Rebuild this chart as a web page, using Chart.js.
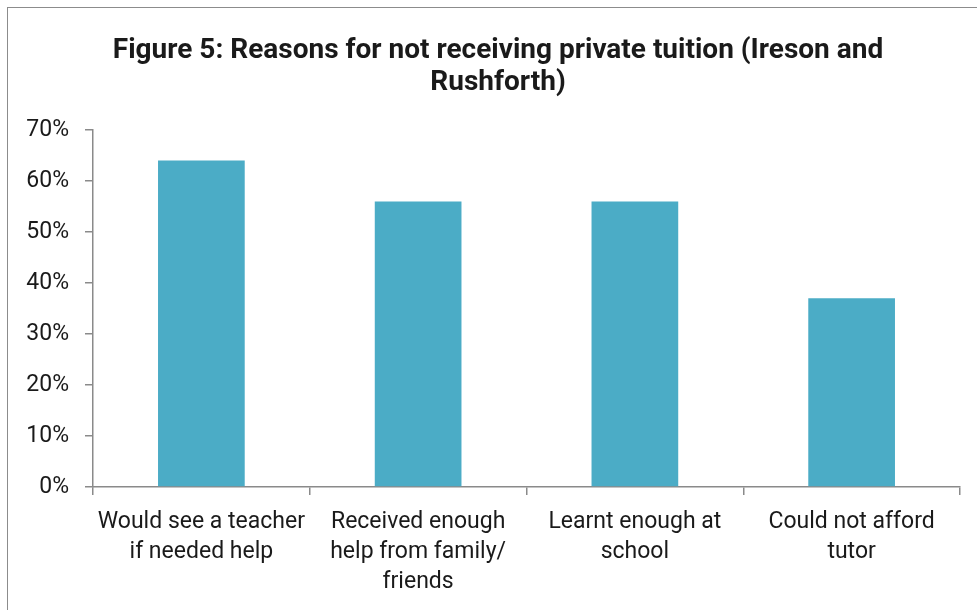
<!DOCTYPE html>
<html>
<head>
<meta charset="utf-8">
<script src="https://cdn.jsdelivr.net/npm/chart.js@4/dist/chart.umd.min.js"></script>
<style>
  html, body { margin: 0; padding: 0; background: #fff; }
  #wrap { position: relative; width: 977px; height: 610px; overflow: hidden; }
  #frame { position: absolute; left: 7px; top: 7px; width: 2000px; height: 2000px; border-left: 1px solid #8c8c8c; border-top: 1px solid #8c8c8c; }
  canvas { position: absolute; left: 0; top: 0; }
</style>
</head>
<body>
<div id="wrap">
  <div id="frame"></div>
  <canvas id="c" width="977" height="610"></canvas>
</div>
<script>
const titleLines = ["Figure 5: Reasons for not receiving private tuition (Ireson and", "Rushforth)"];
const categories = [
  ["Would see a teacher", "if needed help"],
  ["Received enough", "help from family/", "friends"],
  ["Learnt enough at", "school"],
  ["Could not afford", "tutor"]
];
const values = [64, 56, 56, 37];
const yTicks = [0, 10, 20, 30, 40, 50, 60, 70];

const axisColor = "#8a8a8a";
const textColor = "#1a1a1a";

// Title drawn centred on the original (cropped) chart frame
const titleLayout = { centerX: 498, firstBaseline: 58, lineGap: 32, font: "bold 28px Roboto" };
const titlePlugin = {
  id: "frameTitle",
  afterDraw(chart) {
    const ctx = chart.ctx;
    ctx.save();
    ctx.font = titleLayout.font;
    ctx.fillStyle = textColor;
    ctx.textAlign = "center";
    ctx.textBaseline = "alphabetic";
    titleLines.forEach((t, i) => ctx.fillText(t, titleLayout.centerX, titleLayout.firstBaseline + i * titleLayout.lineGap));
    ctx.restore();
  }
};

new Chart(document.getElementById("c"), {
  type: "bar",
  data: {
    labels: categories,
    datasets: [{
      data: values,
      backgroundColor: "#4bacc6",
      borderWidth: 0,
      categoryPercentage: 1.0,
      barPercentage: 0.4
    }]
  },
  plugins: [titlePlugin],
  options: {
    responsive: false,
    animation: false,
    layout: { padding: { left: 0, right: 17, top: 130, bottom: 0 } },
    plugins: {
      legend: { display: false },
      tooltip: { enabled: false },
      title: { display: false }
    },
    scales: {
      x: {
        grid: { display: true, drawOnChartArea: false, color: axisColor, lineWidth: 1.5, tickLength: 8, offset: true },
        border: { display: true, color: axisColor, width: 1.5 },
        ticks: { color: textColor, font: { family: "Roboto", size: 23, lineHeight: 1.3 }, padding: 12, maxRotation: 0, autoSkip: false },
        afterFit: function (s) { s.height = 123; }
      },
      y: {
        min: 0, max: 70,
        afterBuildTicks: function (s) { s.ticks = yTicks.map(v => ({ value: v })); },
        grid: { display: true, drawOnChartArea: false, color: axisColor, lineWidth: 1.5, tickLength: 8 },
        border: { display: true, color: axisColor, width: 1.5 },
        ticks: { color: textColor, font: { family: "Roboto", size: 23 }, padding: 16, callback: v => v + "%" },
        afterFit: function (s) { s.width = 93; }
      }
    }
  }
});
</script>
</body>
</html>
